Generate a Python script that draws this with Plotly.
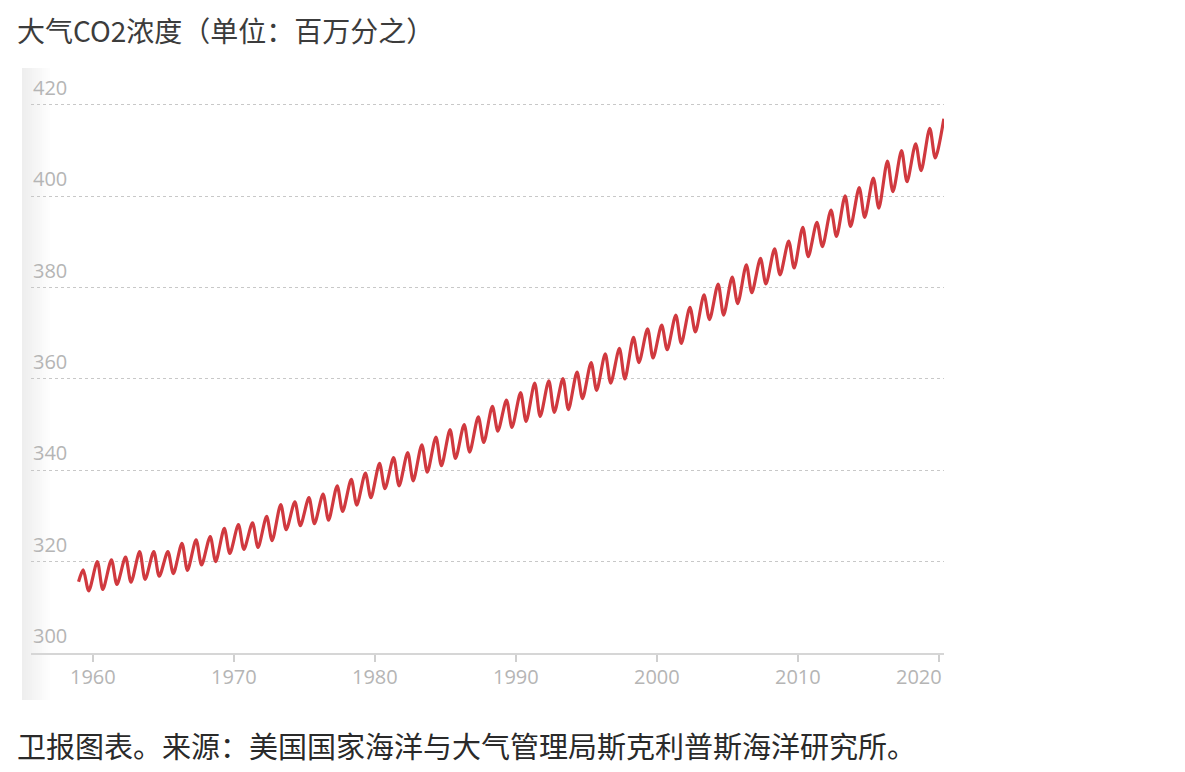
import plotly.graph_objects as go

# ---- data (ppm) ----
start_point = (1959.0, 315.6)
years = list(range(1959, 2021))
peaks = [318.2, 320.0, 320.4, 321.0, 322.2, 322.2, 322.2, 324.0, 324.8, 325.5,
         327.3, 328.1, 328.5, 329.9, 332.5, 333.1, 334.0, 334.8, 336.6, 338.0,
         339.4, 341.5, 342.8, 343.9, 345.6, 347.3, 348.9, 350.0, 351.7, 354.0,
         355.4, 357.0, 359.1, 359.6, 360.1, 361.5, 363.6, 365.5, 366.7, 369.1,
         371.0, 371.8, 374.0, 375.7, 378.4, 380.8, 382.3, 385.0, 386.4, 388.5,
         390.2, 393.2, 394.3, 397.0, 400.1, 401.9, 404.0, 407.7, 410.0, 411.5,
         414.9, 417.0]
troughs = [313.6, 313.9, 315.0, 315.5, 316.1, 316.8, 317.4, 318.1, 319.3, 320.0,
           321.8, 322.7, 323.1, 324.6, 327.0, 327.9, 328.3, 329.1, 331.0, 332.4,
           334.0, 336.0, 336.6, 337.7, 339.6, 341.0, 342.6, 344.0, 346.1, 348.6,
           349.4, 350.7, 351.8, 352.7, 353.3, 355.7, 357.5, 359.1, 360.0, 363.6,
           364.6, 366.4, 367.8, 370.3, 373.0, 374.0, 376.5, 378.9, 380.8, 382.8,
           384.3, 386.8, 389.0, 391.2, 393.4, 395.4, 397.4, 401.0, 403.2, 405.6,
           408.4]  # 2020 has no trough yet
x_ticks = [1960, 1970, 1980, 1990, 2000, 2010, 2020]
y_ticks = [300, 320, 340, 360, 380, 400, 420]

PEAK_OFF, TROUGH_OFF = 0.33, 0.72

xs, ys = [start_point[0]], [start_point[1]]
for i, yr in enumerate(years):
    xs.append(yr + PEAK_OFF); ys.append(peaks[i])
    if i < len(troughs):
        xs.append(yr + TROUGH_OFF); ys.append(troughs[i])

W, H = 1185, 772
OFF = 8  # page body margin
PW, PH = 913, 573
ML, MT = 31 - OFF, 80 - OFF
MR = W - ML - PW
MB = H - MT - PH
XR = [1955.63, 2020.34]
YR = [300, 300 + PH / 4.567]

def px2x(px):
    return (px - OFF - ML) / PW

def py2y(py):
    return (MT + PH - (py - OFF)) / PH

fig = go.Figure()
fig.add_trace(go.Scatter(
    x=xs, y=ys, mode="lines",
    line=dict(color="#d0393f", width=3.2, shape="spline", smoothing=0.8),
    hoverinfo="skip", showlegend=False))

shapes = []
# left card edge shading
n = 14
for k in range(n):
    c = int(238 + (255 - 238) * k / n)
    shapes.append(dict(type="rect", xref="paper", yref="paper",
                       x0=px2x(22 + 2 * k), x1=px2x(24 + 2 * k),
                       y0=py2y(700), y1=py2y(68),
                       fillcolor=f"rgb({c},{c},{c})", line=dict(width=0),
                       layer="below"))

tick_font = dict(family="Open Sans", size=20, color="#b5b5b5")
annotations = []
for v in y_ticks:
    annotations.append(dict(xref="paper", yref="y", x=0, y=v, xanchor="left",
                            yanchor="bottom", xshift=0, yshift=2, text=str(v),
                            showarrow=False, font=tick_font))
for v in x_ticks:
    if v == x_ticks[-1]:
        annotations.append(dict(xref="paper", yref="paper", x=1, y=0,
                                xanchor="right", yanchor="top", yshift=-8,
                                text=str(v), showarrow=False, font=tick_font))
    else:
        annotations.append(dict(xref="x", yref="paper", x=v, y=0,
                                xanchor="center", yanchor="top", yshift=-8,
                                text=str(v), showarrow=False, font=tick_font))

annotations.append(dict(xref="paper", yref="paper", x=px2x(15), y=py2y(8),
                        xanchor="left", yanchor="top",
                        text="大气CO2浓度（单位：百万分之）", showarrow=False,
                        font=dict(family="Noto Sans CJK SC", size=28, color="#3c3c3c")))
annotations.append(dict(xref="paper", yref="paper", x=px2x(15), y=py2y(745),
                        xanchor="left", yanchor="middle",
                        text="卫报图表。来源：美国国家海洋与大气管理局斯克利普斯海洋研究所。",
                        showarrow=False,
                        font=dict(family="Noto Sans CJK SC", size=29, color="#2a2a2a")))

fig.update_layout(
    width=W, height=H, autosize=False,
    margin=dict(l=ML, r=MR, t=MT, b=MB, pad=0),
    paper_bgcolor="white", plot_bgcolor="rgba(0,0,0,0)",
    shapes=shapes, annotations=annotations, showlegend=False,
)
fig.update_xaxes(range=XR, tickvals=x_ticks, showticklabels=False,
                 ticks="outside", ticklen=7, tickcolor="#cfcfcf", tickwidth=1.5,
                 showgrid=False, showline=True, linecolor="#d6d6d6", linewidth=1.5,
                 zeroline=False, fixedrange=True)
fig.update_yaxes(range=YR, tickvals=y_ticks[1:], showticklabels=False,
                 showgrid=True, gridcolor="#c8c8c8", gridwidth=1, griddash="dot",
                 zeroline=False, showline=False, fixedrange=True)

fig.write_html("out.html")
